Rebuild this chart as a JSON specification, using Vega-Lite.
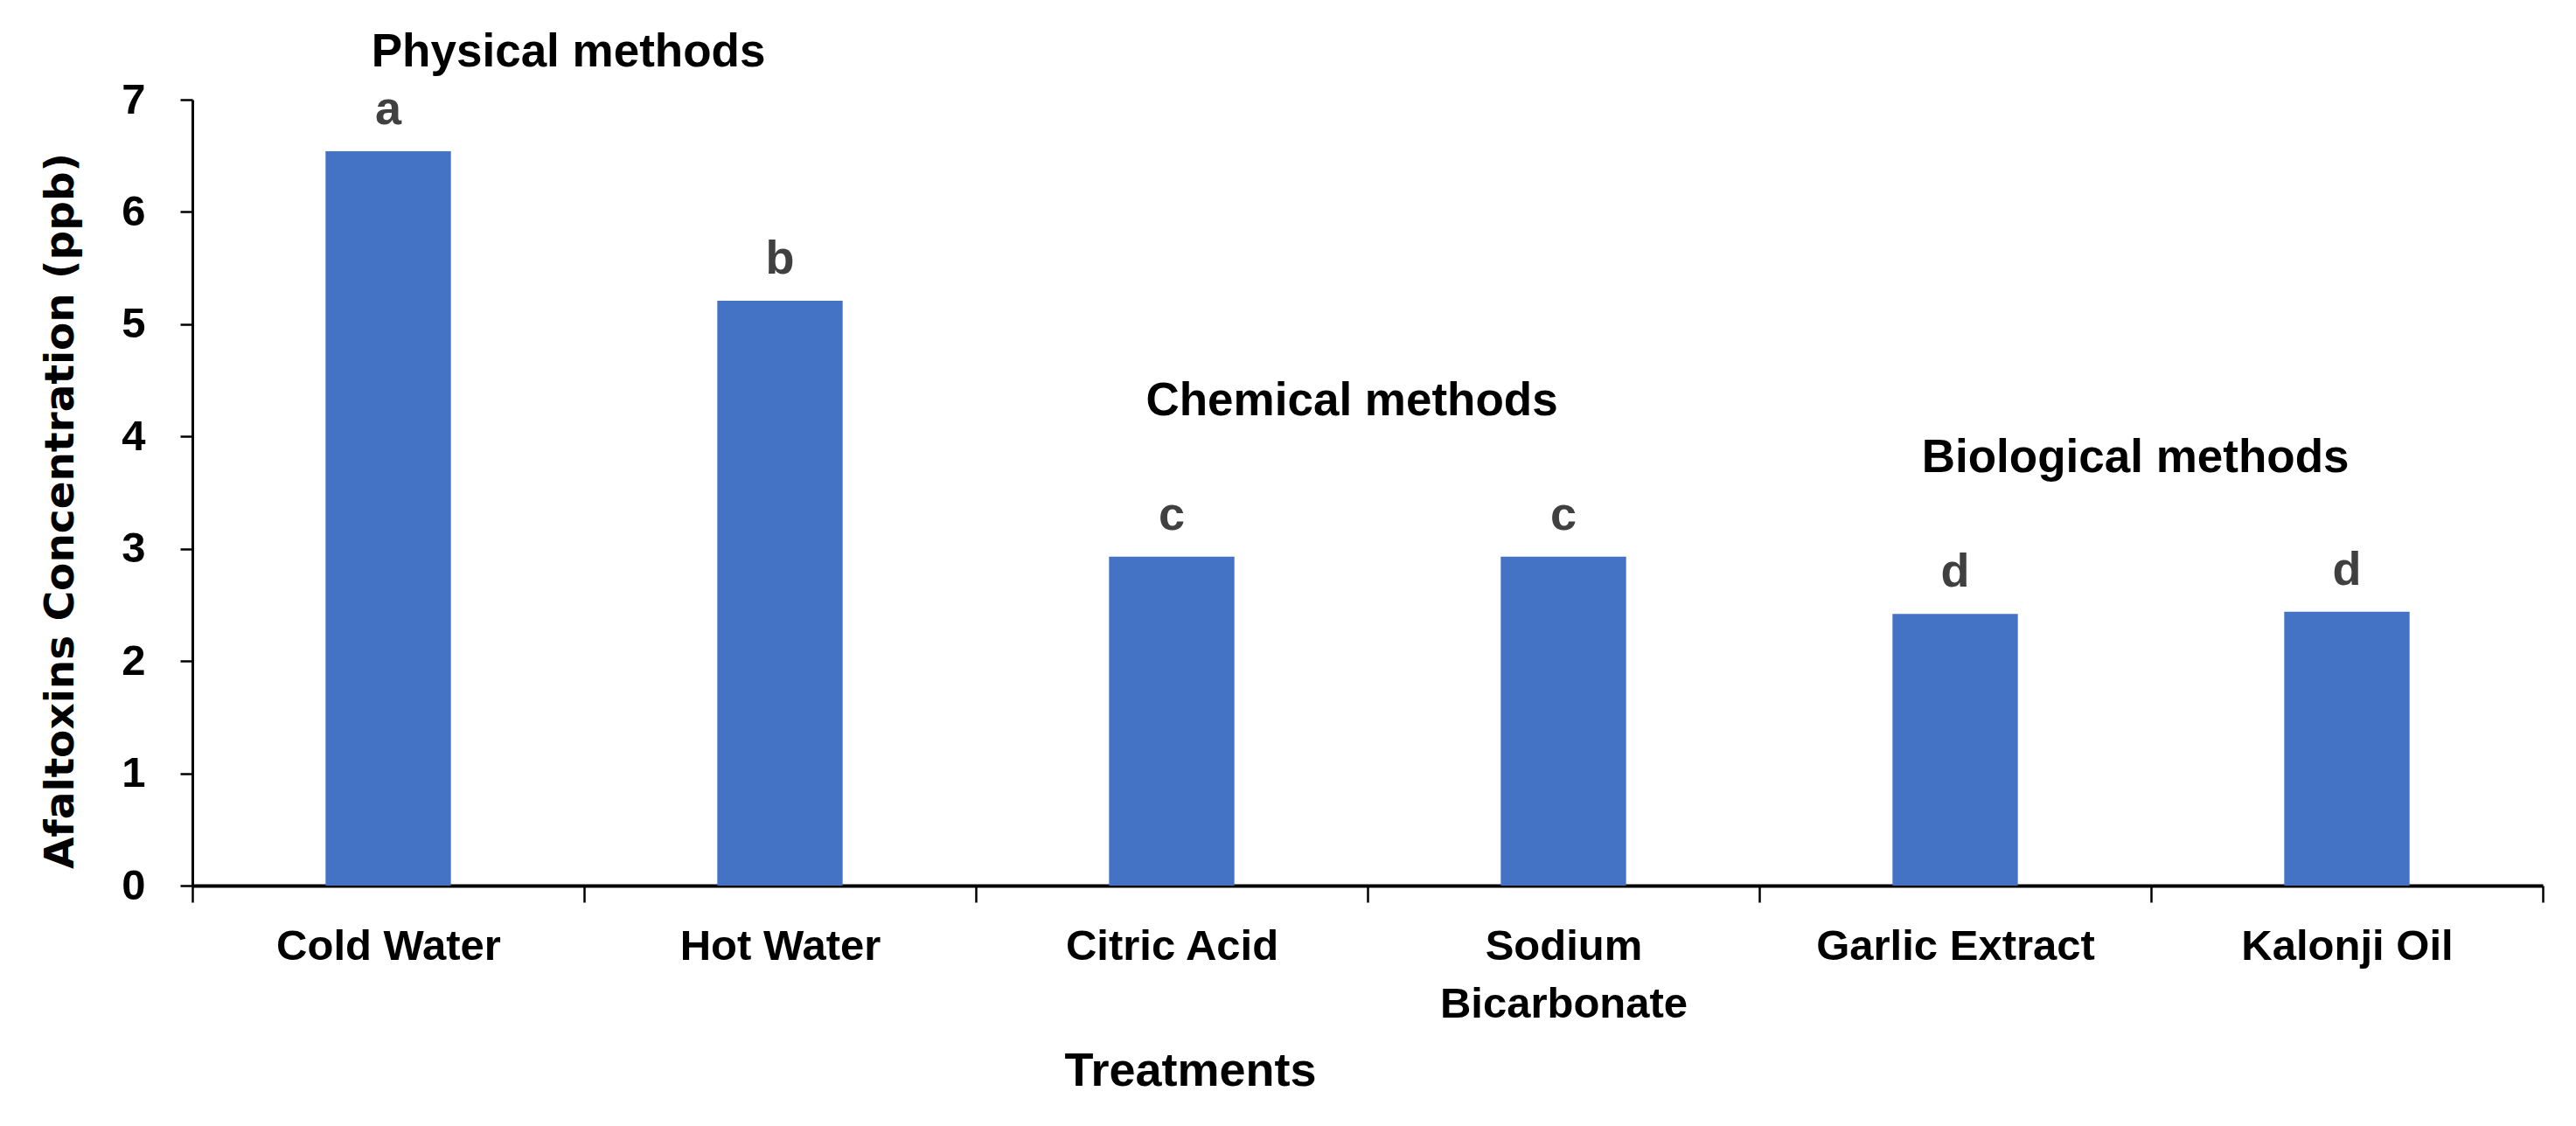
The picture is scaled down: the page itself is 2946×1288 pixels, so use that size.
{
  "$schema": "https://vega.github.io/schema/vega-lite/v6.json",
  "autosize": "none",
  "width": 2688,
  "height": 899,
  "padding": {"left": 220, "top": 114, "right": 38, "bottom": 275},
  "background": "white",
  "config": {"view": {"stroke": null}},
  "datasets": {
    "bars": [
      {"treatment": "Cold Water", "value": 6.54, "letter": "a"},
      {"treatment": "Hot Water", "value": 5.21, "letter": "b"},
      {"treatment": "Citric Acid", "value": 2.93, "letter": "c"},
      {"treatment": "Sodium Bicarbonate", "value": 2.93, "letter": "c"},
      {"treatment": "Garlic Extract", "value": 2.42, "letter": "d"},
      {"treatment": "Kalonji Oil", "value": 2.44, "letter": "d"}
    ],
    "groups": [
      {"treatment": "Cold Water", "y": 7.42, "label": "Physical methods"},
      {"treatment": "Citric Acid", "y": 4.31, "label": "Chemical methods"},
      {"treatment": "Garlic Extract", "y": 3.81, "label": "Biological methods"}
    ]
  },
  "layer": [
    {
      "data": {"name": "bars"},
      "mark": {"type": "bar", "color": "#4472C4", "width": {"band": 0.32}},
      "encoding": {
        "x": {
          "field": "treatment", "type": "nominal", "sort": null,
          "scale": {"paddingInner": 0, "paddingOuter": 0},
          "axis": {
            "title": "Treatments",
            "titleFont": "Liberation Sans", "titleFontSize": 54, "titleFontWeight": "bold", "titleColor": "black",
            "titleX": 1141, "titleY": 212, "titleBaseline": "middle", "titleAlign": "center",
            "labelAngle": 0, "labelLimit": 0,
            "labelFont": "Liberation Sans", "labelFontSize": 49, "labelFontWeight": "bold", "labelColor": "black",
            "labelPadding": 26, "labelLineHeight": 66,
            "labelExpr": "datum.label == 'Sodium Bicarbonate' ? ['Sodium', 'Bicarbonate'] : datum.label",
            "tickBand": "extent", "tickSize": 19, "tickWidth": 2.5, "tickColor": "black",
            "domainColor": "black", "domainWidth": 4
          }
        },
        "y": {
          "field": "value", "type": "quantitative",
          "scale": {"domain": [0, 7], "nice": false},
          "axis": {
            "title": "Afaltoxins Concentration (ppb)",
            "titleFont": "DejaVu Sans", "titleFontSize": 47, "titleFontWeight": "bold", "titleColor": "black",
            "titlePadding": 45, "titleY": 470,
            "values": [0, 1, 2, 3, 4, 5, 6, 7], "format": "d",
            "labelFont": "Liberation Sans", "labelFontSize": 49, "labelFontWeight": "bold", "labelColor": "black",
            "labelPadding": 40,
            "grid": false, "tickSize": 14, "tickWidth": 2.5, "tickColor": "black",
            "domainColor": "black", "domainWidth": 3
          }
        }
      }
    },
    {
      "data": {"name": "bars"},
      "mark": {"type": "text", "font": "Liberation Sans", "fontSize": 54, "fontWeight": "bold", "color": "#404040", "baseline": "alphabetic", "dy": -31},
      "encoding": {
        "x": {"field": "treatment", "type": "nominal", "sort": null},
        "y": {"field": "value", "type": "quantitative"},
        "text": {"field": "letter"}
      }
    },
    {
      "data": {"name": "groups"},
      "mark": {"type": "text", "font": "Liberation Sans", "fontSize": 53, "fontWeight": "bold", "color": "black", "baseline": "middle"},
      "encoding": {
        "x": {"field": "treatment", "type": "nominal", "sort": null, "bandPosition": 0.96},
        "y": {"field": "y", "type": "quantitative"},
        "text": {"field": "label"}
      }
    }
  ]
}
